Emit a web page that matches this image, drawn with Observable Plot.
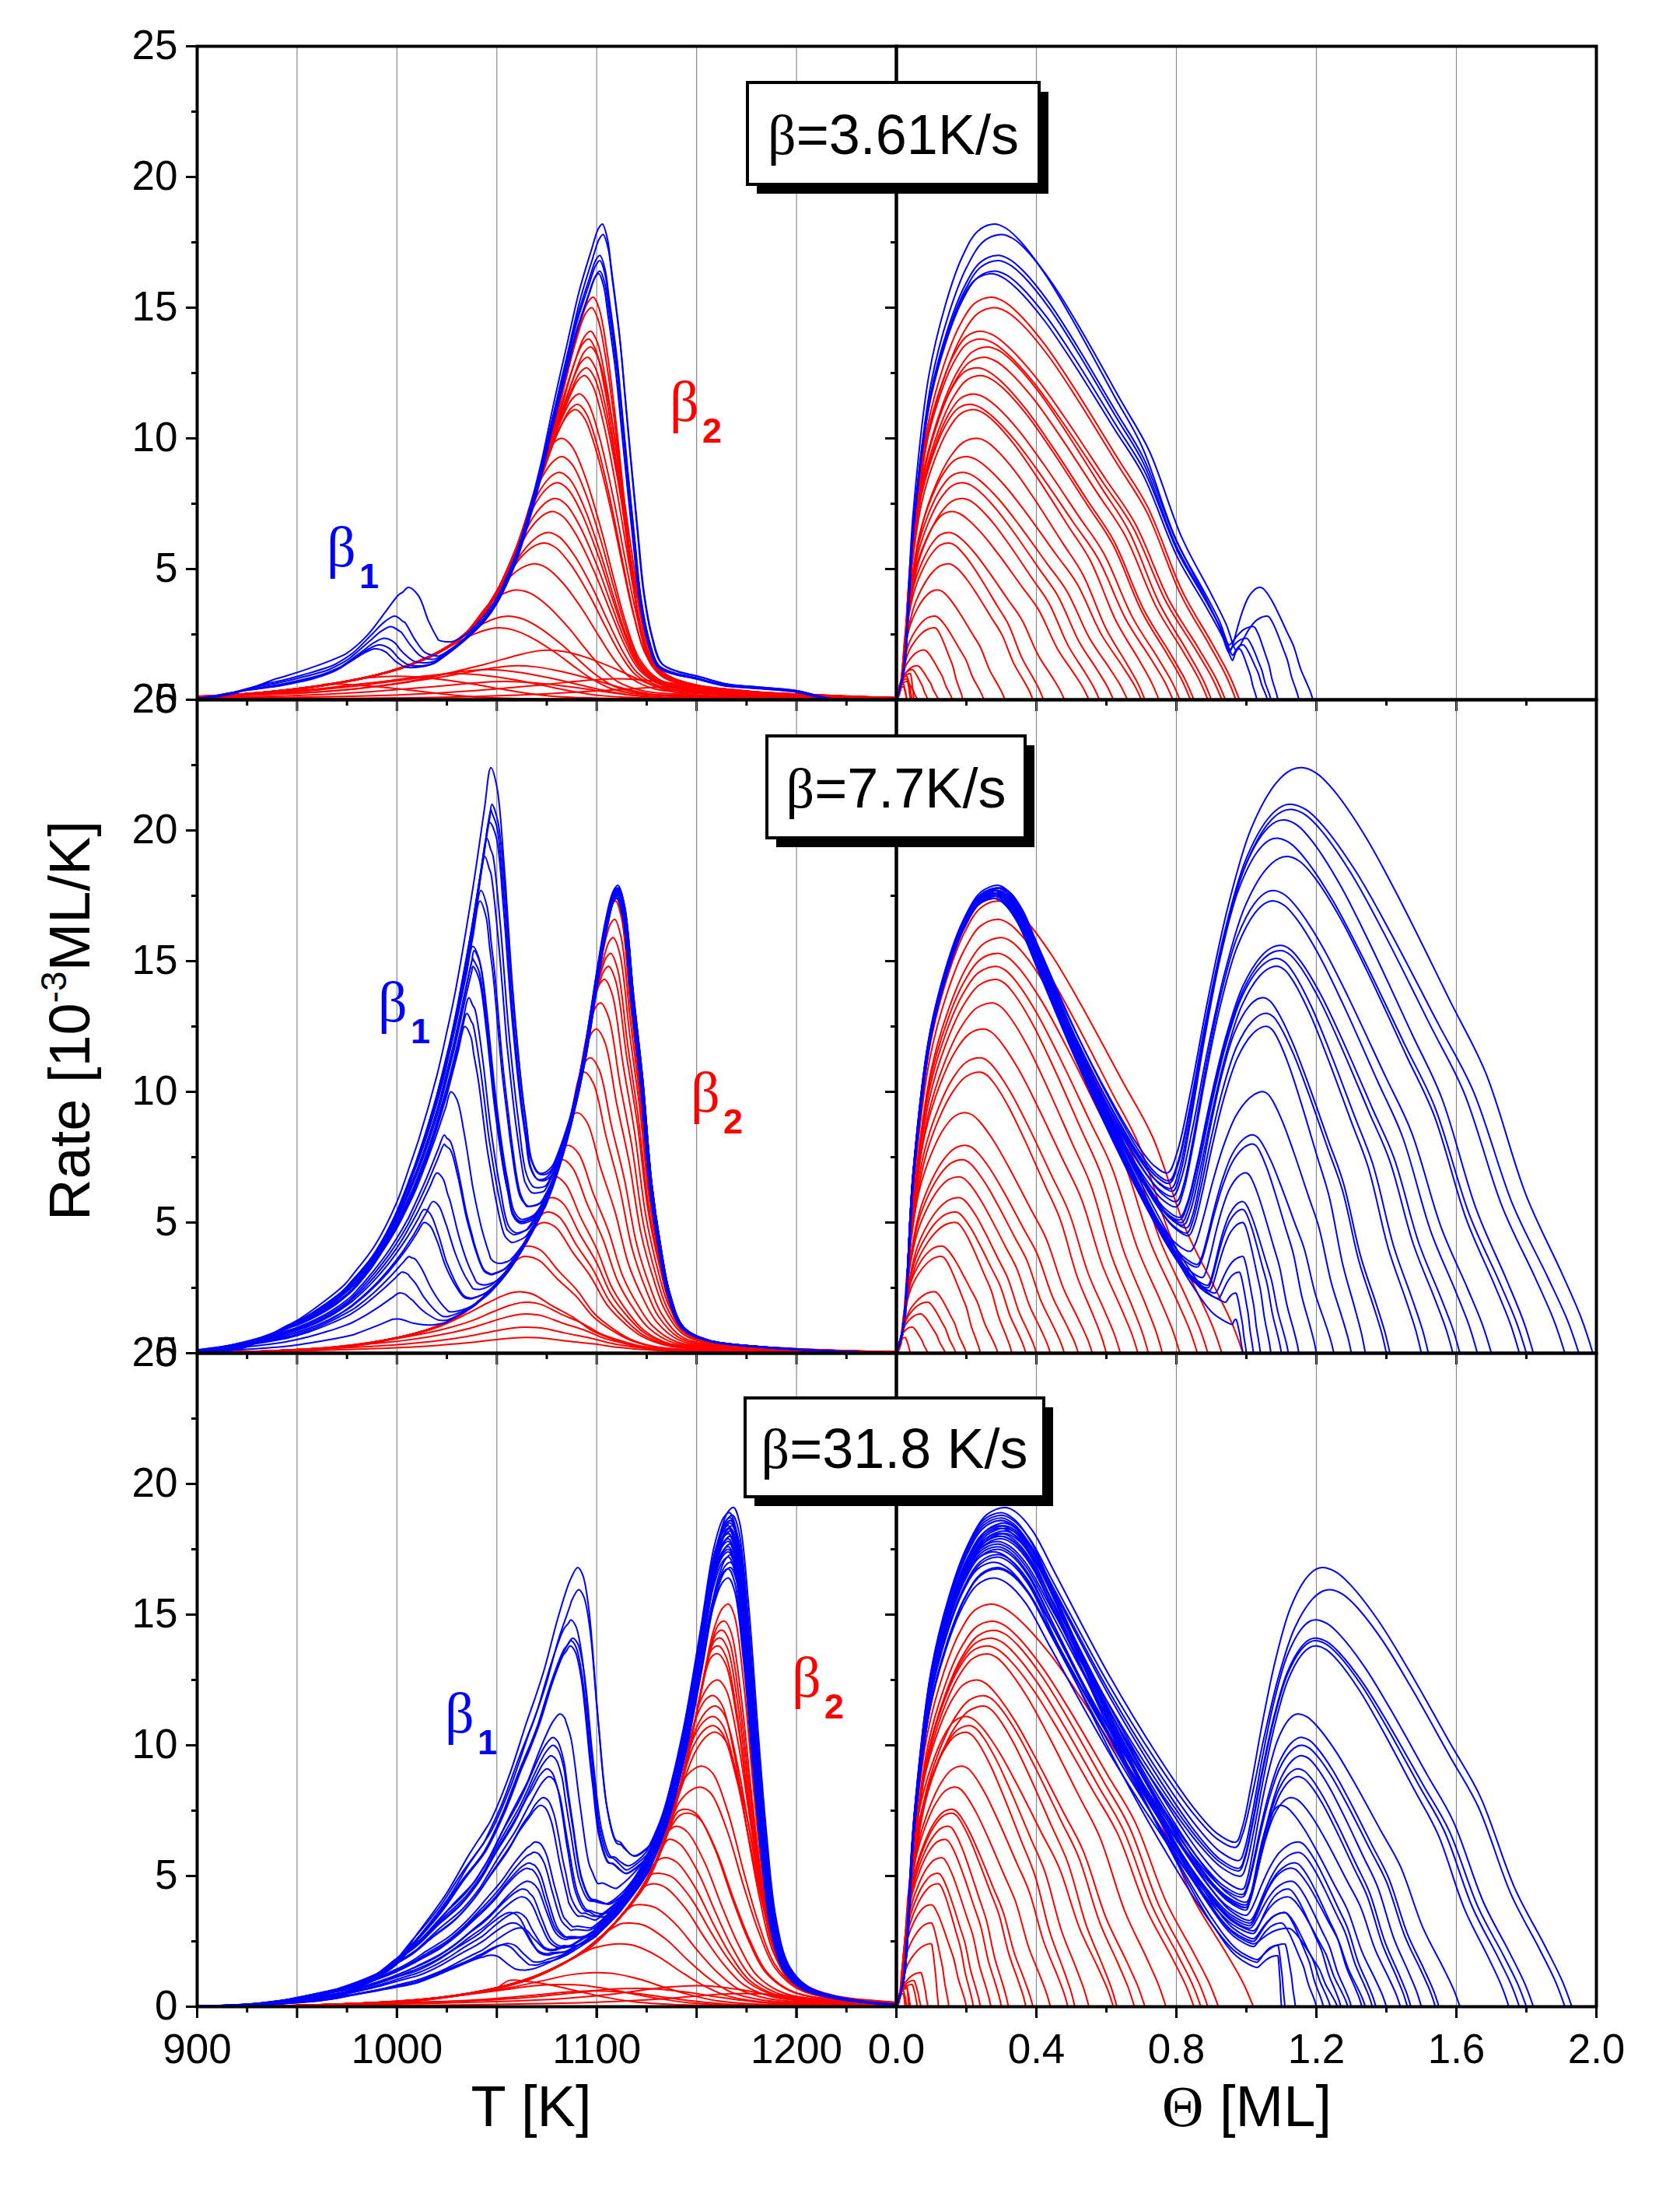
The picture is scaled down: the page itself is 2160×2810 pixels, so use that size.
<!DOCTYPE html>
<html><head><meta charset="utf-8">
<script src="https://cdn.jsdelivr.net/npm/d3@7"></script>
<script src="https://cdn.jsdelivr.net/npm/@observablehq/plot@0.6"></script>
<style>
html,body{margin:0;padding:0;background:#fff;}
#page{position:relative;width:2160px;height:2810px;background:#fff;overflow:hidden;}
</style></head><body><div id="page"></div>
<script>
// ---------------- axis / label data ----------------
const T_LABEL_TICKS = [900, 1000, 1100, 1200];
const T_MAJOR_TICKS = [900, 950, 1000, 1050, 1100, 1150, 1200, 1250];
const T_MINOR_TICKS = [925, 975, 1025, 1075, 1125, 1175, 1225];
const T_GRID = [950, 1000, 1050, 1100, 1150, 1200];
const THETA_LABEL_TICKS = [0, 0.4, 0.8, 1.2, 1.6, 2.0];
const THETA_MINOR_TICKS = [0.2, 0.6, 1.0, 1.4, 1.8];
const THETA_GRID = [0.4, 0.8, 1.2, 1.6];
const RATE_MAJOR_TICKS = [0, 5, 10, 15, 20, 25];
const RATE_MINOR_TICKS = [2.5, 7.5, 12.5, 17.5, 22.5];
const HEATING_RATES = ["3.61K/s", "7.7K/s", "31.8 K/s"];

// ---------------- peak shapes ([offset, fraction of peak]) ----------------
// row 1 (3.61 K/s), T panel
const redShapeT1 = [[-198,0.006],[-178,0.013],[-148,0.026],[-118,0.05],[-98,0.075],[-78,0.115],[-63,0.165],[-53,0.225],[-43,0.32],[-33,0.45],[-26,0.57],[-18,0.71],[-8,0.91],[-3,0.985],[0,1],[3,0.97],[7,0.86],[12,0.66],[16,0.47],[20,0.29],[24,0.16],[30,0.08],[42,0.045],[62,0.026],[92,0.013],[122,0]];
const mainShapeT1 = [[-200,0],[-160,0.01],[-130,0.025],[-100,0.055],[-82.5,0.085],[-68.5,0.135],[-57.5,0.185],[-51.5,0.225],[-42.5,0.315],[-37.5,0.385],[-30.5,0.5],[-24.5,0.62],[-17.5,0.75],[-11.5,0.86],[-5.5,0.945],[-2,0.99],[0,1],[2.5,0.97],[4.5,0.907],[8.5,0.77],[11.5,0.63],[14.5,0.49],[17.5,0.357],[20.5,0.23],[24.5,0.137],[29.5,0.077],[37.5,0.06],[47.5,0.05],[62.5,0.033],[77.5,0.027],[97.5,0.019],[113.5,0.003],[130,0]];
const bumpShapeT1 = [[-106,0],[-86,0.06],[-66,0.2],[-46,0.3],[-31,0.4],[-21,0.55],[-11,0.8],[-5,0.95],[0,1],[5,0.85],[10,0.5],[15,0.22],[22,0.06],[30,0]];
// row 2 (7.7 K/s), T panel
const mainShapeT2 = [[-210,0],[-166,0.006],[-132.6,0.015],[-103.6,0.039],[-85.6,0.064],[-72.6,0.1],[-63.6,0.134],[-54.6,0.18],[-45.6,0.243],[-36.6,0.32],[-30,0.4],[-23.6,0.5],[-16.6,0.64],[-10,0.82],[-5.6,0.93],[-2,0.99],[0,1],[3,0.96],[7.4,0.77],[12,0.59],[16.4,0.37],[21,0.23],[25.5,0.13],[32.5,0.056],[45,0.028],[68,0.015],[100,0.006],[140,0]];
const bumpShapeT2 = [[-150,0],[-125,0.0075],[-96,0.058],[-73.5,0.118],[-58,0.185],[-47,0.26],[-36,0.37],[-27,0.48],[-18,0.62],[-9,0.8],[-3.3,0.93],[0,1],[3,0.95],[6.7,0.78],[11,0.52],[15.6,0.3],[20,0.14],[23.5,0.085],[30,0.03],[40,0]];
// row 3 (31.8 K/s), T panel
const mainShapeT3 = [[-238,0],[-201.5,0.005],[-157.5,0.014],[-123.5,0.037],[-99.5,0.068],[-81.5,0.11],[-68,0.152],[-54.5,0.22],[-41.5,0.304],[-32.5,0.403],[-23.5,0.555],[-14.5,0.764],[-7.8,0.93],[-3,0.99],[0,1],[3,0.97],[7.5,0.806],[12.2,0.555],[16.5,0.346],[21.2,0.178],[27.5,0.084],[36.5,0.042],[54.5,0.018],[80.5,0.005],[110,0]];
const bumpShapeT3 = [[-180,0],[-150,0.012],[-120,0.04],[-92.5,0.097],[-79.5,0.18],[-65.5,0.27],[-54.5,0.36],[-43.5,0.44],[-34.5,0.54],[-25.5,0.67],[-16.5,0.79],[-10,0.9],[-3.5,0.985],[0,1],[2.5,0.97],[5.5,0.87],[10,0.57],[14.5,0.3],[19,0.18],[21.2,0.16],[28,0.07],[38,0.02],[50,0]];
// Θ panels (normalised rise / fall pieces)
const riseShapeR = [[0,0],[0.07,0.06],[0.17,0.39],[0.33,0.68],[0.5,0.83],[0.67,0.93],[0.83,0.985],[1,1]];
const declineShapeR = [[0,1],[0.05,0.99],[0.11,0.96],[0.22,0.88],[0.34,0.77],[0.51,0.6],[0.63,0.48],[0.77,0.27],[0.89,0.14],[0.96,0.06],[1,0]];
const valleyShapeR = [[0,1],[0.05,0.985],[0.12,0.93],[0.22,0.8],[0.45,0.5],[0.66,0.26],[0.82,0.1],[0.92,0.025],[1,0]];
const bumpRiseShapeR = [[0,0],[0.07,0.05],[0.17,0.2],[0.3,0.43],[0.45,0.66],[0.62,0.85],[0.8,0.96],[0.92,0.995],[1,1]];

// ---------------- curves: red = [T peak, rate peak, width factor, Θ peak, Θ end] ----------------
const red1 = [[1098.3,15.4,1.0,.27,.98],[1097.5,15.0,1.05,.28,.97],[1097,14.1,1.1,.24,.94],[1096,13.8,1.15,.24,.93],[1097,13.5,1.2,.26,.90],[1095.5,13.1,1.25,.25,.89],[1095,12.7,1.3,.23,.85],[1094,12.4,1.3,.24,.84],[1091.5,11.7,1.4,.22,.81],[1090.5,11.3,1.4,.21,.79],[1089.5,11.1,1.45,.22,.75],[1082.7,10.0,1.6,.23,.71],[1082.7,9.3,1.6,.20,.70],[1081.5,8.7,1.65,.19,.66],[1080.5,8.3,1.7,.19,.62],[1079.4,7.7,1.75,.19,.58],[1078,7.2,1.8,.16,.55],[1076,6.4,1.85,.15,.48],[1073.8,6.0,1.9,.15,.42],[1069,5.2,2.0,.15,.39],[1060.5,4.2,2.1,.12,.31],[1056,3.2,2.2,.11,.25],[1051.5,2.75,2.3,.11,.19],[1076,1.9,2.6,.08,.16],[1060.5,1.3,2.8,.06,.12],[1045,1.15,3.0,.045,.09],[1054,0.7,3.0,.03,.06],[1000,0.9,3.2,.03,.045],[965,0.6,3.2,.02,.03],[1030,1.0,3.0,.04,.05],[1110,0.8,3.2,.03,.04],[1140,0.5,3.0,.02,.03]];
const red2 = [[1109.5,17.3,1.0,.29,.99],[1109,16.6,1.05,.29,.93],[1108.3,15.9,1.1,.30,.89],[1107,15.3,1.15,.29,.86],[1106,14.8,1.2,.285,.81],[1104,14.3,1.25,.285,.76],[1102,13.4,1.3,.275,.72],[1100,12.4,1.35,.25,.69],[1097,11.3,1.4,.24,.64],[1094,10.75,1.45,.24,.60],[1090.5,9.2,1.55,.20,.56],[1086,7.95,1.65,.20,.52],[1082.7,7.4,1.7,.19,.48],[1079,6.75,1.75,.18,.44],[1078,5.95,1.8,.18,.40],[1076,5.4,1.85,.17,.37],[1074,5.0,1.9,.17,.33],[1066,4.1,2.0,.13,.29],[1065,3.7,2.05,.13,.24],[1061.5,2.35,2.2,.11,.20],[1065,1.95,2.3,.09,.17],[1065,1.5,2.4,.07,.14],[1065,1.0,2.6,.045,.09],[1065,0.6,2.8,.025,.04]];
const red3 = [[1166,15.4,1.0,.27,1.02],[1164,14.75,1.1,.275,.92],[1163,14.4,1.15,.28,.89],[1162,14.1,1.2,.27,.87],[1161,13.8,1.25,.26,.85],[1160.7,13.5,1.3,.26,.77],[1160.7,12.5,1.35,.23,.71],[1158.5,11.9,1.4,.25,.68],[1159.6,11.5,1.45,.25,.63],[1158.5,11.1,1.5,.20,.62],[1158.5,10.75,1.55,.21,.55],[1159.6,10.5,1.6,.20,.51],[1153,9.2,1.7,.19,.49],[1152,8.4,1.75,.17,.44],[1145,7.55,1.85,.16,.39],[1146,7.4,1.85,.16,.37],[1139.5,6.9,1.9,.15,.32],[1136,6.4,1.95,.14,.30],[1134,5.7,2.0,.13,.27],[1131.7,5.1,2.1,.12,.24],[1128,4.7,2.15,.12,.22],[1122.8,3.9,2.25,.10,.20],[1117,3.2,2.35,.10,.15],[1111.7,2.4,2.5,.10,.12],[1100.5,1.3,2.8,.07,.09],[1082.7,0.85,3.0,.045,.06],[1056,1.0,3.0,.05,.07],[1120,0.7,3.2,.03,.04],[1150,0.8,3.0,.03,.035],[1100,0.6,3.0,.02,.03],[1175,0.5,3.0,.02,.025]];

// blue = [T β2 peak, β2 rate, T β1 peak, β1 rate, Θ β2 peak, Θ valley, valley rate, Θ β1 peak, Θ end]
const blue1 = [[1102.8,18.2,1005.8,4.3,.28,.95,1.8,1.04,1.19],[1103.2,17.8,999,3.2,.30,.97,1.9,1.06,1.15],[1101.6,17.0,997,2.8,.29,.95,2.1,1.02,1.09],[1101.6,16.8,993.6,2.35,.29,.95,1.9,1.0,1.07],[1101.6,16.4,991,2.1,.28,.96,1.7,.99,1.06],[1101,16.3,989,1.95,.27,.96,1.5,.98,1.03]];
const blue2 = [[1110.6,17.9,1047,22.4,.29,.775,6.9,1.16,1.99],[1110,17.8,1047.5,21.0,.30,.78,6.6,1.13,1.95],[1111,17.7,1047,20.8,.29,.78,6.5,1.13,1.91],[1110,17.6,1046.6,20.4,.28,.785,6.3,1.11,1.82],[1110.5,17.8,1045,19.7,.29,.79,6.2,1.09,1.80],[1110,17.5,1044,19.0,.28,.79,6.0,1.12,1.78],[1111,17.6,1042,17.7,.29,.80,5.8,1.08,1.70],[1110,17.4,1041.5,17.3,.28,.80,5.6,1.08,1.66],[1110.5,17.7,1038,15.6,.29,.81,5.2,1.10,1.61],[1110,17.5,1038.6,15.4,.28,.81,5.1,1.10,1.59],[1111,17.8,1038,15.1,.30,.815,5.0,1.09,1.52],[1110,17.6,1038,14.8,.29,.82,4.9,1.09,1.50],[1110.5,17.5,1036,13.6,.28,.83,4.8,1.05,1.41],[1110,17.7,1035,13.0,.29,.83,4.6,1.06,1.40],[1111,17.6,1034,12.5,.29,.835,4.5,1.06,1.34],[1110,17.4,1027,10.0,.28,.84,3.9,1.05,1.30],[1110.5,17.8,1023.7,8.35,.29,.86,3.4,1.02,1.25],[1110,17.5,1023.7,8.0,.28,.86,3.3,1.02,1.20],[1111,17.7,1020,6.9,.29,.875,2.9,1.0,1.15],[1110,17.6,1018,5.8,.28,.89,2.6,.99,1.12],[1110.5,17.5,1013.6,5.5,.29,.89,2.5,.99,1.10],[1110,17.4,1013.6,5.0,.28,.895,2.4,.99,1.07],[1111,17.8,1006,3.7,.29,.91,2.3,.99,1.04],[1110,17.6,1002.5,3.1,.28,.92,2.1,.98,1.02],[1110.5,17.5,1001,2.3,.29,.94,1.95,.97,1.00],[1110,17.7,998,1.3,.28,.96,1.1,.97,0.99]];
const blue3 = [[1168.5,19.1,1090.5,16.8,.31,.97,6.3,1.22,1.93],[1168,18.8,1091,15.95,.30,.97,6.1,1.24,1.91],[1167.4,18.6,1087,14.8,.30,.98,5.6,1.20,1.82],[1166,18.3,1088,14.1,.31,.98,5.3,1.20,1.80],[1167,18.0,1087,14.0,.30,.98,5.2,1.20,1.78],[1166,17.8,1086.7,13.8,.29,.985,5.0,1.20,1.75],[1166,18.4,1081.6,11.2,.30,.99,4.5,1.15,1.61],[1167,17.7,1078,10.3,.29,.99,4.3,1.16,1.55],[1166,17.4,1078,10.0,.28,.99,4.2,1.16,1.54],[1166,18.1,1077,9.6,.31,1.0,4.0,1.16,1.50],[1167,16.8,1075,9.1,.29,1.0,3.9,1.15,1.47],[1166,16.75,1076,8.8,.29,1.0,3.8,1.15,1.46],[1167,18.6,1071.6,7.7,.30,1.0,3.7,1.10,1.40],[1166,17.9,1069,6.3,.30,1.0,3.5,1.15,1.37],[1167,18.2,1068,5.9,.31,1.01,3.3,1.15,1.36],[1166,17.5,1065,5.3,.29,1.01,3.1,1.13,1.34],[1167,18.0,1065,4.8,.30,1.01,3.0,1.13,1.30],[1166,16.4,1062.7,4.5,.28,1.02,2.8,1.12,1.27],[1167,18.7,1059,3.6,.30,1.02,2.6,1.11,1.24],[1166,17.6,1056,3.6,.29,1.02,2.5,1.11,1.22],[1167,18.3,1053.7,2.4,.30,1.03,1.8,1.11,1.14],[1166,17.2,1051.5,2.35,.29,1.03,1.7,1.09,1.11],[1167,18.5,1045,1.95,.31,1.03,1.5,1.09,1.10],[1166.5,18.9,1060,3.0,.30,1.02,2.4,1.12,1.26],[1167.5,17.3,1066,5.5,.29,1.01,3.2,1.14,1.33],[1166,18.1,1073,8.0,.30,1.0,3.8,1.13,1.44],[1167,17.0,1062,4.2,.28,1.02,2.9,1.12,1.29],[1168,18.4,1057,3.2,.31,1.02,2.3,1.10,1.20]];

// ---------------- building the line tables from the read values ----------------
function shapeAt(tpl, d) {
  if (d <= tpl[0][0]) return tpl[0][1];
  const n = tpl.length;
  if (d >= tpl[n - 1][0]) return tpl[n - 1][1];
  let i = 1; while (tpl[i][0] < d) i++;
  const [d0, f0] = tpl[i - 1], [d1, f1] = tpl[i];
  return f0 + (f1 - f0) * (d - d0) / (d1 - d0);
}
// red T curves; the rising side never exceeds the shared leading edge of the largest curve (rows[0])
function redLinesT(rows, shape, tag) {
  const out = [];
  const [eTp, eh] = rows[0];
  rows.forEach(([Tp, h, w], i) => {
    const wr = 1 + 0.5 * (w - 1);
    for (const [d, f] of shape) {
      const x = Tp + d * (d < 0 ? wr : w);
      let y = h * f;
      if (d < 0 && i > 0) y = Math.min(y, eh * shapeAt(shape, x - eTp));
      out.push({id: tag + i, x, y});
    }
  });
  return out;
}
function blueLinesT(rows, main, bump, tag) {
  const out = [];
  rows.forEach(([Tp2, h2, T1, h1], i) => {
    const h1e = Math.max(0.3, h1 - h2 * shapeAt(main, T1 - Tp2));
    const xs = [...main.map(([d]) => Tp2 + d), ...bump.map(([d]) => T1 + d)].sort((a, b) => a - b);
    let last = -Infinity;
    for (const x of xs) {
      if (x - last < 0.2) continue;
      last = x;
      out.push({id: tag + i, x, y: h2 * shapeAt(main, x - Tp2) + h1e * shapeAt(bump, x - T1)});
    }
  });
  return out;
}
function redLinesR(rows, tag) {
  const out = [];
  rows.forEach(([, h, , Tp, end], i) => {
    for (const [u, f] of riseShapeR) out.push({id: tag + i, x: u * Tp, y: h * f});
    for (const [v, f] of declineShapeR.slice(1)) out.push({id: tag + i, x: Tp + v * (end - Tp), y: h * f});
  });
  return out;
}
function blueLinesR(rows, valley, tag) {
  const out = [];
  rows.forEach(([, h2, , h1, Tp, Tv, yv, T1, end], i) => {
    const id = tag + i;
    for (const [u, f] of riseShapeR) out.push({id, x: u * Tp, y: h2 * f});
    for (const [v, f] of valley.slice(1)) out.push({id, x: Tp + v * (Tv - Tp), y: yv + f * (h2 - yv)});
    for (const [w, g] of bumpRiseShapeR.slice(1)) out.push({id, x: Tv + w * (T1 - Tv), y: yv + g * (h1 - yv)});
    for (const [v, f] of declineShapeR.slice(1)) out.push({id, x: T1 + v * (end - T1), y: h1 * f});
  });
  return out;
}

const panels = [
  {row: 0, col: 0, red: redLinesT(red1, redShapeT1, "r1"), blue: blueLinesT(blue1, mainShapeT1, bumpShapeT1, "b1")},
  {row: 0, col: 1, red: redLinesR(red1, "r1"), blue: blueLinesR(blue1, declineShapeR, "b1")},
  {row: 1, col: 0, red: redLinesT(red2, mainShapeT2, "r2"), blue: blueLinesT(blue2, mainShapeT2, bumpShapeT2, "b2")},
  {row: 1, col: 1, red: redLinesR(red2, "r2"), blue: blueLinesR(blue2, valleyShapeR, "b2")},
  {row: 2, col: 0, red: redLinesT(red3, mainShapeT3, "r3"), blue: blueLinesT(blue3, mainShapeT3, bumpShapeT3, "b3")},
  {row: 2, col: 1, red: redLinesR(red3, "r3"), blue: blueLinesR(blue3, valleyShapeR, "b3")}
];

// ---------------- layout ----------------
const COL_LEFT = [253, 1152], COL_W = [899, 900];
const ROW_TOP = [59, 899, 1739], ROW_H = 840;
const M = {left: 130, right: 12, top: 12, bottom: 130};
const FONT = "'Liberation Sans', Arial, Helvetica, sans-serif";
const page = document.getElementById("page");

for (const p of panels) {
  const isT = p.col === 0, bottom = p.row === 2;
  const marks = [];
  marks.push(Plot.ruleX(isT ? T_GRID : THETA_GRID, {stroke: "#8a8a8a", strokeWidth: 1.2}));
  marks.push(Plot.line(p.red, {x: "x", y: "y", z: "id", stroke: "#ff0000", strokeWidth: 2, curve: "catmull-rom", clip: true}));
  marks.push(Plot.line(p.blue, {x: "x", y: "y", z: "id", stroke: "#0000ff", strokeWidth: 2, curve: "catmull-rom", clip: true}));
  const ax = {strokeWidth: 3, label: null};
  if (isT) {
    marks.push(Plot.axisX({...ax, ticks: T_MAJOR_TICKS, tickSize: 15, fill: "none"}));
    marks.push(Plot.axisX({...ax, ticks: T_MINOR_TICKS, tickSize: 8, fill: "none"}));
    if (bottom) marks.push(Plot.axisX({...ax, ticks: T_LABEL_TICKS, tickSize: 15, tickPadding: 20, tickFormat: d => String(d)}));
  } else {
    marks.push(Plot.axisX({...ax, ticks: THETA_MINOR_TICKS, tickSize: 8, fill: "none"}));
    if (bottom) marks.push(Plot.axisX({...ax, ticks: THETA_LABEL_TICKS, tickSize: 15, tickPadding: 20, tickFormat: d => d.toFixed(1)}));
    else marks.push(Plot.axisX({...ax, ticks: THETA_LABEL_TICKS, tickSize: 15, fill: "none"}));
  }
  marks.push(Plot.axisY({...ax, ticks: RATE_MINOR_TICKS, tickSize: 7, fill: "none"}));
  if (isT) marks.push(Plot.axisY({...ax, ticks: RATE_MAJOR_TICKS, tickSize: 14, tickPadding: 11, tickFormat: d => String(d)}));
  else marks.push(Plot.axisY({...ax, ticks: RATE_MAJOR_TICKS, tickSize: 14, fill: "none"}));
  marks.push(Plot.frame({strokeWidth: 4}));

  const w = COL_W[p.col];
  const svg = Plot.plot({
    width: M.left + w + M.right,
    height: M.top + ROW_H + M.bottom,
    marginLeft: M.left, marginRight: M.right, marginTop: M.top, marginBottom: M.bottom,
    x: {domain: isT ? [900, 1250] : [0, 2], label: null},
    y: {domain: [0, 25], label: null},
    style: {fontFamily: FONT, fontSize: "53px", background: "transparent", overflow: "visible", maxWidth: "none", color: "#000"},
    marks
  });
  svg.style.position = "absolute";
  svg.style.left = (COL_LEFT[p.col] - M.left) + "px";
  svg.style.top = (ROW_TOP[p.row] - M.top) + "px";
  page.appendChild(svg);
}

// ---------------- overlay texts ----------------
const ov = d3.select(page).append("svg")
  .attr("width", 2160).attr("height", 2810)
  .style("position", "absolute").style("left", "0px").style("top", "0px")
  .style("pointer-events", "none").style("font-family", FONT);

// heating-rate boxes
const BOXES = [{x: 961, y: 106, w: 375, h: 131}, {x: 986, y: 946, w: 332, h: 131}, {x: 958, y: 1797, w: 384, h: 127}];
BOXES.forEach((b, i) => {
  ov.append("rect").attr("x", b.x + 12).attr("y", b.y + 12).attr("width", b.w).attr("height", b.h).attr("fill", "#000");
  ov.append("rect").attr("x", b.x).attr("y", b.y).attr("width", b.w).attr("height", b.h).attr("fill", "#fff").attr("stroke", "#000").attr("stroke-width", 4);
  const t = ov.append("text").attr("x", b.x + b.w / 2).attr("y", b.y + b.h / 2 + 26).attr("text-anchor", "middle").attr("font-size", 72);
  t.append("tspan").attr("font-family", "'Liberation Serif', 'Times New Roman', serif").text("β");
  t.append("tspan").text("=" + HEATING_RATES[i]);
});

// peak labels
const PEAK_LABELS = [
  {x: 420, y: 728, sub: "1", color: "#0000ff"}, {x: 861, y: 541, sub: "2", color: "#ff0000"},
  {x: 486, y: 1313, sub: "1", color: "#0000ff"}, {x: 888, y: 1429, sub: "2", color: "#ff0000"},
  {x: 572, y: 2227, sub: "1", color: "#0000ff"}, {x: 1018, y: 2181, sub: "2", color: "#ff0000"}
];
for (const l of PEAK_LABELS) {
  ov.append("text").attr("x", l.x).attr("y", l.y).attr("fill", l.color).attr("font-size", 74)
    .attr("font-family", "'Liberation Serif', 'Times New Roman', serif").text("β");
  ov.append("text").attr("x", l.x + 42).attr("y", l.y + 28).attr("fill", l.color).attr("font-size", 45)
    .attr("font-weight", "bold").text(l.sub);
}

// axis titles
ov.append("text").attr("x", 683).attr("y", 2733).attr("text-anchor", "middle").attr("font-size", 74).text("T [K]");
const th = ov.append("text").attr("x", 1603).attr("y", 2733).attr("text-anchor", "middle").attr("font-size", 74);
th.append("tspan").attr("font-family", "'Liberation Serif', 'Times New Roman', serif").text("Θ");
th.append("tspan").text(" [ML]");
const yt = ov.append("text").attr("transform", "translate(115,1312) rotate(-90)").attr("text-anchor", "middle").attr("font-size", 74);
yt.append("tspan").text("Rate [10");
yt.append("tspan").attr("font-size", 46).attr("dy", -30).text("-3");
yt.append("tspan").attr("dy", 30).text("ML/K]");
</script></body></html>
